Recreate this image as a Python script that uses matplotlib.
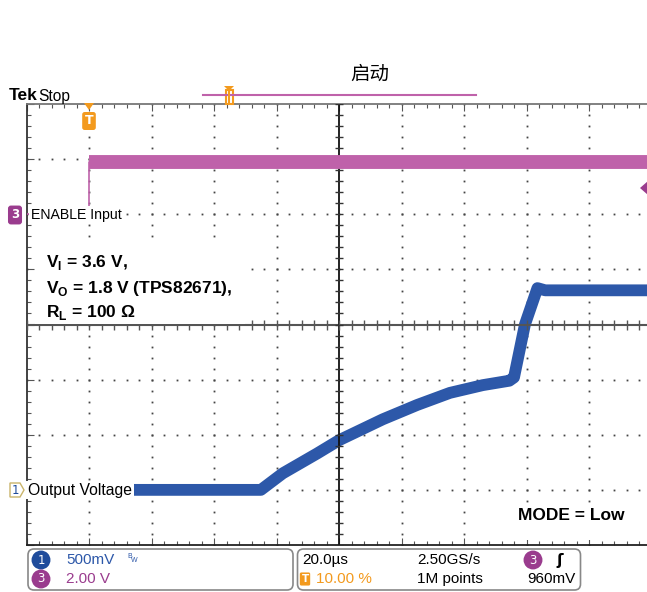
import numpy as np
import matplotlib
matplotlib.use("Agg")
import matplotlib.pyplot as plt
from matplotlib import font_manager
from matplotlib.patches import FancyBboxPatch, Rectangle, Polygon

# Channel 1: output voltage (V) vs time from trigger (us)
t_out = [-20, 14, 55, 62, 73, 80, 94, 105, 115.5, 126, 134.5, 136, 139.5, 143.5, 146, 180]
v_out = [0.0, 0.0, 0.0, 0.15, 0.33, 0.45, 0.64, 0.77, 0.88, 0.95, 0.99, 1.02, 1.5, 1.83, 1.81, 1.81]

# Channel 3: enable input (V)
t_en = [-20, 0, 0, 180]
v_en = [0.0, 0.0, 1.9, 1.9]

# scope settings
time_div = 20.0      # us/div
ch1_div = 0.5        # V/div
ch3_div = 2.0        # V/div
ch1_offset_div = 1   # ground level, divisions above bottom
ch3_offset_div = 6

pink = "#bf62aa"
purple = "#9a3c8e"
blue = "#2d58a9"
dblue = "#1f4c9c"
orange = "#f39a1e"

names = {f.name for f in font_manager.fontManager.ttflist}
scope_font = "Liberation Sans Narrow" if "Liberation Sans Narrow" in names else "Liberation Sans"
narrow = scope_font == "Liberation Sans Narrow"
scope_size = 12 if narrow else 11
label_size = 12 if narrow else 10.2
out_label_size = 13.5 if narrow else 11.3

plt.rcParams["mathtext.fontset"] = "custom"
plt.rcParams["mathtext.rm"] = "Liberation Sans:bold"
plt.rcParams["mathtext.bf"] = "Liberation Sans:bold"

W, H = 647, 592
fig = plt.figure(figsize=(W / 100, H / 100), dpi=100)

# graticule area in pixels
gx0, gx1, gy0, gy1 = 26.5, 651.5, 104, 545
ax = fig.add_axes([gx0 / W, 1 - gy1 / H, (gx1 - gx0) / W, (gy1 - gy0) / H])
ax.set_xlim(-time_div, 9 * time_div)
ax.set_ylim(-ch1_offset_div * ch1_div, (8 - ch1_offset_div) * ch1_div)
ax2 = ax.twinx()
ax2.set_ylim(-ch3_offset_div * ch3_div, (8 - ch3_offset_div) * ch3_div)
ax2.axis("off")

x_lo, x_hi = ax.get_xlim()
y_lo, y_hi = ax.get_ylim()
x_major = np.arange(x_lo, x_hi + 0.01, time_div)
y_major = np.arange(y_lo, y_hi + 0.001, ch1_div)
x_minor = np.arange(x_lo, x_hi + 0.01, time_div / 5)
y_minor = np.arange(y_lo, y_hi + 0.001, ch1_div / 5)
x_mid = x_major[5]
y_mid = y_major[4]

# dotted graticule
for xv in x_major[1:-1]:
    if xv == x_mid:
        continue
    ax.plot(np.full_like(y_minor, xv), y_minor, ls="none", marker="s", ms=1.3, color="#444444", mew=0, zorder=1)
for yv in y_major[1:-1]:
    if yv == y_mid:
        continue
    ax.plot(x_minor, np.full_like(x_minor, yv), ls="none", marker="s", ms=1.3, color="#444444", mew=0, zorder=1)

# border and border ticks
ax.spines["right"].set_visible(False)
ax.spines["left"].set_color("#333333")
ax.spines["bottom"].set_color("#222222")
ax.spines["top"].set_color("#777777")
for s in ["left", "bottom", "top"]:
    ax.spines[s].set_linewidth(1.3)
ax.set_xticks(x_major)
ax.set_yticks(y_major)
ax.set_xticks(x_minor, minor=True)
ax.set_yticks(y_minor, minor=True)
ax.tick_params(which="both", direction="in", top=True, bottom=True, left=True, right=False,
               labelbottom=False, labelleft=False, color="#555555", width=0.8)
ax.tick_params(which="major", length=5)
ax.tick_params(which="minor", length=3)

# traces
ax2.plot(t_en, v_en, color=pink, lw=1.2, zorder=3)
ax2.plot(t_en[2:], v_en[2:], color=pink, lw=10, solid_capstyle="butt", zorder=3)
ax.plot(t_out, v_out, color=blue, lw=8.5, solid_capstyle="butt", solid_joinstyle="round", zorder=3)

# center cross with ticks
ax.axhline(y_mid, color="#555555", lw=1.5, zorder=5)
ax.axvline(x_mid, color="#111111", lw=1.3, zorder=5)
ax.plot(x_minor, np.full_like(x_minor, y_mid), ls="none", marker="|", ms=7, mew=1, color="#555555", zorder=5)
ax.plot(np.full_like(y_minor, x_mid), y_minor, ls="none", marker="_", ms=6, mew=1, color="#333333", zorder=5)

# overlay in pixel coordinates
ov = fig.add_axes([0, 0, 1, 1])
ov.set_xlim(0, W)
ov.set_ylim(H, 0)
ov.axis("off")

# white boxes behind pasted annotations
ov.add_patch(Rectangle((35, 243), 210, 81, fc="white", ec="none"))
ov.add_patch(Rectangle((510, 503), 122, 37, fc="white", ec="none"))

ov.text(46, 263, r"V$_\mathbf{I}$ = 3.6 V,", fontsize=12.5, fontweight="bold",
        family="Liberation Sans", va="center", ha="left")
ov.text(46, 288, r"V$_\mathbf{O}$ = 1.8 V (TPS82671),", fontsize=12.5, fontweight="bold",
        family="Liberation Sans", va="center", ha="left")
ov.text(46, 313, r"R$_\mathbf{L}$ = 100 Ω", fontsize=12.5, fontweight="bold",
        family="Liberation Sans", va="center", ha="left")
ov.text(518, 516, "MODE = Low", fontsize=12.5, fontweight="bold",
        family="Liberation Sans", va="center", ha="left")

# title and header
ov.text(370, 74, "启动", fontsize=14, family=["Noto Sans CJK SC", "DejaVu Sans"], ha="center", va="center")
ov.text(9, 96, "Tek", fontsize=12.5, fontweight="bold", family=scope_font, va="center", ha="left")
ov.text(38, 96, "Stop", fontsize=label_size + 1, family=scope_font, va="center", ha="left")

# record view bar
ov.plot([203, 352], [95, 95], color=pink, lw=1.5)
ov.plot([354, 476], [95, 95], color=pink, lw=1.5)
ov.add_patch(Polygon([(224, 86), (234, 86), (229, 91)], fc=orange, ec="none"))
ov.add_patch(Rectangle((225.5, 90), 7, 14, fc="white", ec=orange, lw=1.5))
ov.plot([229, 229], [91, 103], color=orange, lw=1.5)

# trigger position marker
ov.add_patch(Polygon([(84, 103), (94, 103), (89, 110)], fc=orange, ec="none"))
ov.text(89, 121, "T", fontsize=9, fontweight="bold", color="white", ha="center", va="center",
        family="DejaVu Sans", bbox=dict(boxstyle="round,pad=0.2", fc=orange, ec="none"))

# trigger level marker at right edge
ov.add_patch(Polygon([(640, 188), (648, 181), (648, 195)], fc=purple, ec="none"))

# channel labels
ov.text(15, 215, "3", fontsize=8.5, fontweight="bold", color="white", ha="center", va="center",
        family="DejaVu Sans", bbox=dict(boxstyle="round,pad=0.25", fc=purple, ec="none"))
ov.text(31, 215, "ENABLE Input", fontsize=label_size, family=scope_font, ha="left", va="center",
        bbox=dict(boxstyle="square,pad=0.15", fc="white", ec="none"))
ov.add_patch(Polygon([(10, 483), (20, 483), (24, 490), (20, 497), (10, 497)], fc="white", ec="#c9b46a", lw=1))
ov.text(15.5, 490, "1", fontsize=8.5, color=dblue, ha="center", va="center", family="DejaVu Sans")
ov.text(28, 490, "Output Voltage", fontsize=out_label_size, family=scope_font, ha="left", va="center",
        bbox=dict(boxstyle="square,pad=0.1", fc="white", ec="none"))

# bottom readout boxes
ov.add_patch(FancyBboxPatch((28, 549), 265, 41, boxstyle="round,pad=0,rounding_size=6",
                            fc="white", ec="#888888", lw=1.2))
ov.add_patch(FancyBboxPatch((297.5, 549), 283, 41, boxstyle="round,pad=0,rounding_size=6",
                            fc="white", ec="#888888", lw=1.2))

r1, r2 = 560, 579
ov.text(41, r1, "1", fontsize=8.5, color="white", ha="center", va="center", family="DejaVu Sans",
        bbox=dict(boxstyle="circle,pad=0.25", fc=dblue, ec="none"))
ov.text(41, r2, "3", fontsize=8.5, color="white", ha="center", va="center", family="DejaVu Sans",
        bbox=dict(boxstyle="circle,pad=0.25", fc=purple, ec="none"))
ov.text(66, r1, "500mV", fontsize=scope_size, color=blue, family=scope_font, ha="left", va="center")
ov.text(127, r1 - 3, "B", fontsize=5, color=blue, family=scope_font, ha="left", va="center")
ov.text(131, r1 + 1, "W", fontsize=5, color=blue, family=scope_font, ha="left", va="center")
ov.text(66, r2, "2.00 V", fontsize=scope_size, color=purple, family=scope_font, ha="left", va="center")

ov.text(302, r1, "20.0µs", fontsize=scope_size, family=scope_font, ha="left", va="center")
ov.text(417, r1, "2.50GS/s", fontsize=scope_size, family=scope_font, ha="left", va="center")
ov.text(533, r1, "3", fontsize=8.5, color="white", ha="center", va="center", family="DejaVu Sans",
        bbox=dict(boxstyle="circle,pad=0.25", fc=purple, ec="none"))
ov.text(560, r1, "ʃ", fontsize=scope_size, fontweight="bold", family="DejaVu Sans", ha="center", va="center")
ov.text(305, r2, "T", fontsize=7.5, fontweight="bold", color="white", ha="center", va="center",
        family="DejaVu Sans", bbox=dict(boxstyle="round,pad=0.15", fc=orange, ec="none"))
ov.text(316, r2, "10.00 %", fontsize=scope_size, color=orange, family=scope_font, ha="left", va="center")
ov.text(417, r2, "1M points", fontsize=scope_size, family=scope_font, ha="left", va="center")
ov.text(527, r2, "960mV", fontsize=scope_size, family=scope_font, ha="left", va="center")

fig.savefig("out.png", dpi=100)
